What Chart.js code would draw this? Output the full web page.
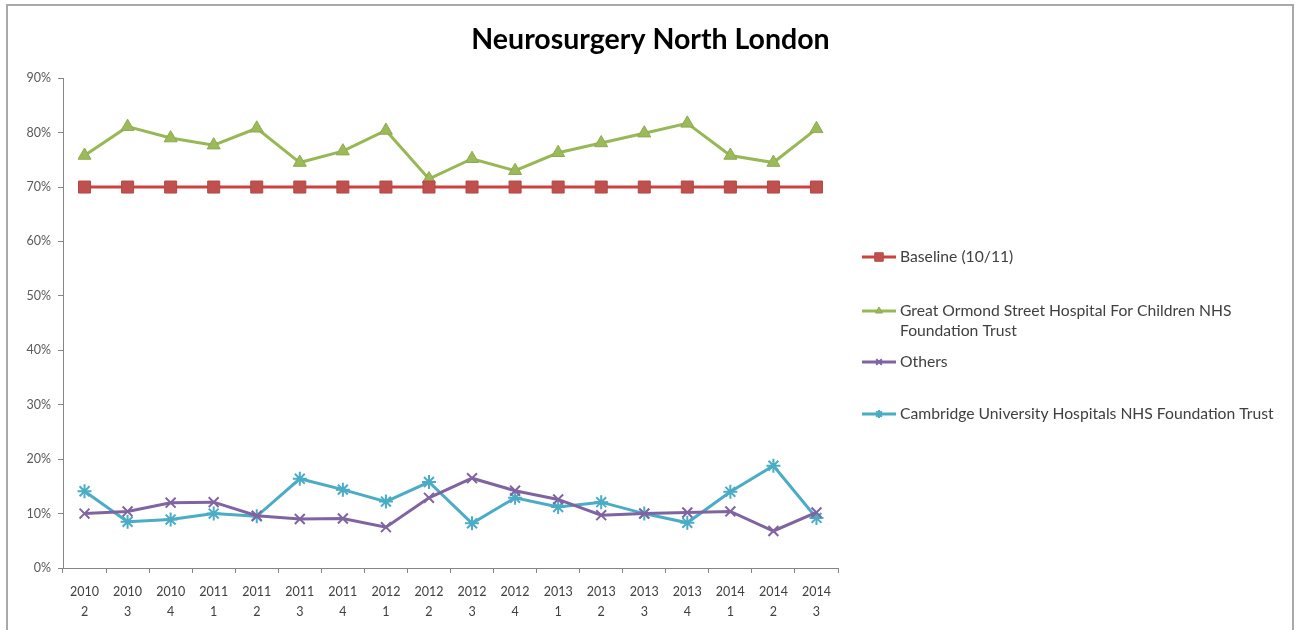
<!DOCTYPE html>
<html>
<head>
<meta charset="utf-8">
<title>Neurosurgery North London</title>
<script src="https://cdn.jsdelivr.net/npm/chart.js@4.4.1/dist/chart.umd.min.js"></script>
<style>
    html, body { margin: 0; padding: 0; background: #fff; overflow: hidden; }
    #frame {
        position: absolute; left: 6px; top: 4px; width: 1288px; height: 700px;
        border: 2px solid #a9a9a9; box-sizing: border-box;
    }
    #wrap { position: absolute; left: 0; top: 0; width: 1301px; height: 630px; }
</style>
</head>
<body>
<div id="frame"></div>
<div id="wrap"><canvas id="chart"></canvas></div>
<script>
// Category labels (year / quarter)
const years = ['2010', '2010', '2010', '2011', '2011', '2011', '2011', '2012', '2012',
               '2012', '2012', '2013', '2013', '2013', '2013', '2014', '2014', '2014'];
const quarters = ['2', '3', '4', '1', '2', '3', '4', '1', '2',
                  '3', '4', '1', '2', '3', '4', '1', '2', '3'];

// Series values (percent)
const baseline = [70, 70, 70, 70, 70, 70, 70, 70, 70, 70, 70, 70, 70, 70, 70, 70, 70, 70];
const greatOrmond = [75.8, 81.1, 79.0, 77.7, 80.8, 74.5, 76.6, 80.4, 71.5,
                     75.2, 73.0, 76.3, 78.1, 79.9, 81.7, 75.8, 74.5, 80.7];
const others = [10.0, 10.4, 12.0, 12.1, 9.6, 9.0, 9.1, 7.5, 12.9,
                16.5, 14.2, 12.6, 9.7, 10.0, 10.2, 10.4, 6.8, 10.2];
const cambridge = [14.1, 8.5, 8.9, 10.0, 9.5, 16.4, 14.4, 12.2, 15.8,
                   8.2, 12.9, 11.2, 12.1, 10.0, 8.3, 14.0, 18.8, 9.2];

// Axis ticks
const yTicks = [0, 10, 20, 30, 40, 50, 60, 70, 80, 90];

const FONT = 'Lato, "Open Sans", sans-serif';

// Legend entries with wrapped text lines and their vertical positions
const legendLines = [
    ['Baseline (10/11)'],
    ['Great Ormond Street Hospital For Children NHS', 'Foundation Trust'],
    ['Others'],
    ['Cambridge University Hospitals NHS Foundation Trust']
];
const legendY = [257, 311, 362, 414];

// Draws the legend to the right of the plot, like Excel does
const sideLegend = {
    id: 'sideLegend',
    afterDraw(chart) {
        const ctx = chart.ctx;
        const x0 = 862, x1 = 896, tx = 900;
        ctx.save();
        chart.data.datasets.forEach((ds, i) => {
            const y = legendY[i];
            ctx.strokeStyle = ds.borderColor;
            ctx.lineWidth = ds.borderWidth;
            ctx.beginPath();
            ctx.moveTo(x0, y);
            ctx.lineTo(x1, y);
            ctx.stroke();
            ctx.fillStyle = ds.pointBackgroundColor;
            ctx.strokeStyle = ds.pointBorderColor;
            ctx.lineWidth = ds.pointBorderWidth;
            Chart.helpers.drawPoint(ctx, {
                pointStyle: ds.pointStyle, rotation: 0,
                borderWidth: ds.pointBorderWidth, radius: ds.legendRadius
            }, (x0 + x1) / 2, y);
            ctx.fillStyle = '#404040';
            ctx.font = '15.7px ' + FONT;
            ctx.textBaseline = 'middle';
            legendLines[i].forEach((line, k) => {
                ctx.fillText(line, tx, y + k * 20);
            });
        });
        ctx.restore();
    }
};

const ctx = document.getElementById('chart').getContext('2d');
new Chart(ctx, {
    type: 'line',
    data: {
        labels: years.map((y, i) => [y, quarters[i]]),
        datasets: [
            {
                label: 'Baseline (10/11)',
                data: baseline,
                borderColor: '#d0403c',
                borderWidth: 3,
                pointStyle: 'rect',
                pointRadius: 8.5,
                legendRadius: 6,
                pointBackgroundColor: '#c0504d',
                pointBorderColor: '#b04a47',
                pointBorderWidth: 1
            },
            {
                label: 'Great Ormond Street Hospital For Children NHS Foundation Trust',
                data: greatOrmond,
                borderColor: '#98b856',
                borderWidth: 3,
                pointStyle: 'triangle',
                pointRadius: 7.5,
                legendRadius: 4,
                pointBackgroundColor: '#9bbb59',
                pointBorderColor: '#8ea954',
                pointBorderWidth: 1
            },
            {
                label: 'Others',
                data: others,
                borderColor: '#8064a2',
                borderWidth: 3,
                pointStyle: 'crossRot',
                pointRadius: 7,
                legendRadius: 4,
                pointBackgroundColor: '#8064a2',
                pointBorderColor: '#8064a2',
                pointBorderWidth: 2
            },
            {
                label: 'Cambridge University Hospitals NHS Foundation Trust',
                data: cambridge,
                borderColor: '#4bacc6',
                borderWidth: 3,
                pointStyle: 'star',
                pointRadius: 7,
                legendRadius: 4,
                pointBackgroundColor: '#4bacc6',
                pointBorderColor: '#4bacc6',
                pointBorderWidth: 2
            }
        ]
    },
    options: {
        responsive: true,
        maintainAspectRatio: false,
        animation: false,
        layout: { padding: { left: 0, right: 0, bottom: -1 } },
        plugins: {
            legend: { display: false },
            tooltip: { enabled: false },
            title: {
                display: true,
                text: 'Neurosurgery North London',
                color: '#000',
                font: { family: FONT, size: 28.5, weight: 'bold', lineHeight: 1.2 },
                padding: { top: 23, bottom: 21 }
            }
        },
        scales: {
            x: {
                offset: true,
                grid: { drawOnChartArea: false, offset: true, tickLength: 5, color: '#868686' },
                border: { color: '#868686', width: 1 },
                ticks: {
                    color: '#404040',
                    padding: 9,
                    maxRotation: 0,
                    autoSkip: false,
                    font: { family: FONT, size: 12.5, lineHeight: 1.6 }
                }
            },
            y: {
                min: 0,
                max: 90,
                afterFit(scale) { scale.width = 63; },
                afterBuildTicks(scale) { scale.ticks = yTicks.map(v => ({ value: v })); },
                grid: { drawOnChartArea: false, tickLength: 5, color: '#868686' },
                border: { color: '#868686', width: 1 },
                ticks: {
                    color: '#595959',
                    padding: 7,
                    font: { family: FONT, size: 12.5 },
                    callback: v => v + '%'
                }
            },
            // empty box on the right that reserves room for the legend
            legendSpace: {
                type: 'linear',
                position: 'right',
                display: true,
                afterFit(scale) { scale.width = 463; },
                grid: { display: false },
                border: { display: false },
                ticks: { display: false }
            }
        }
    },
    plugins: [sideLegend]
});
</script>
</body>
</html>
